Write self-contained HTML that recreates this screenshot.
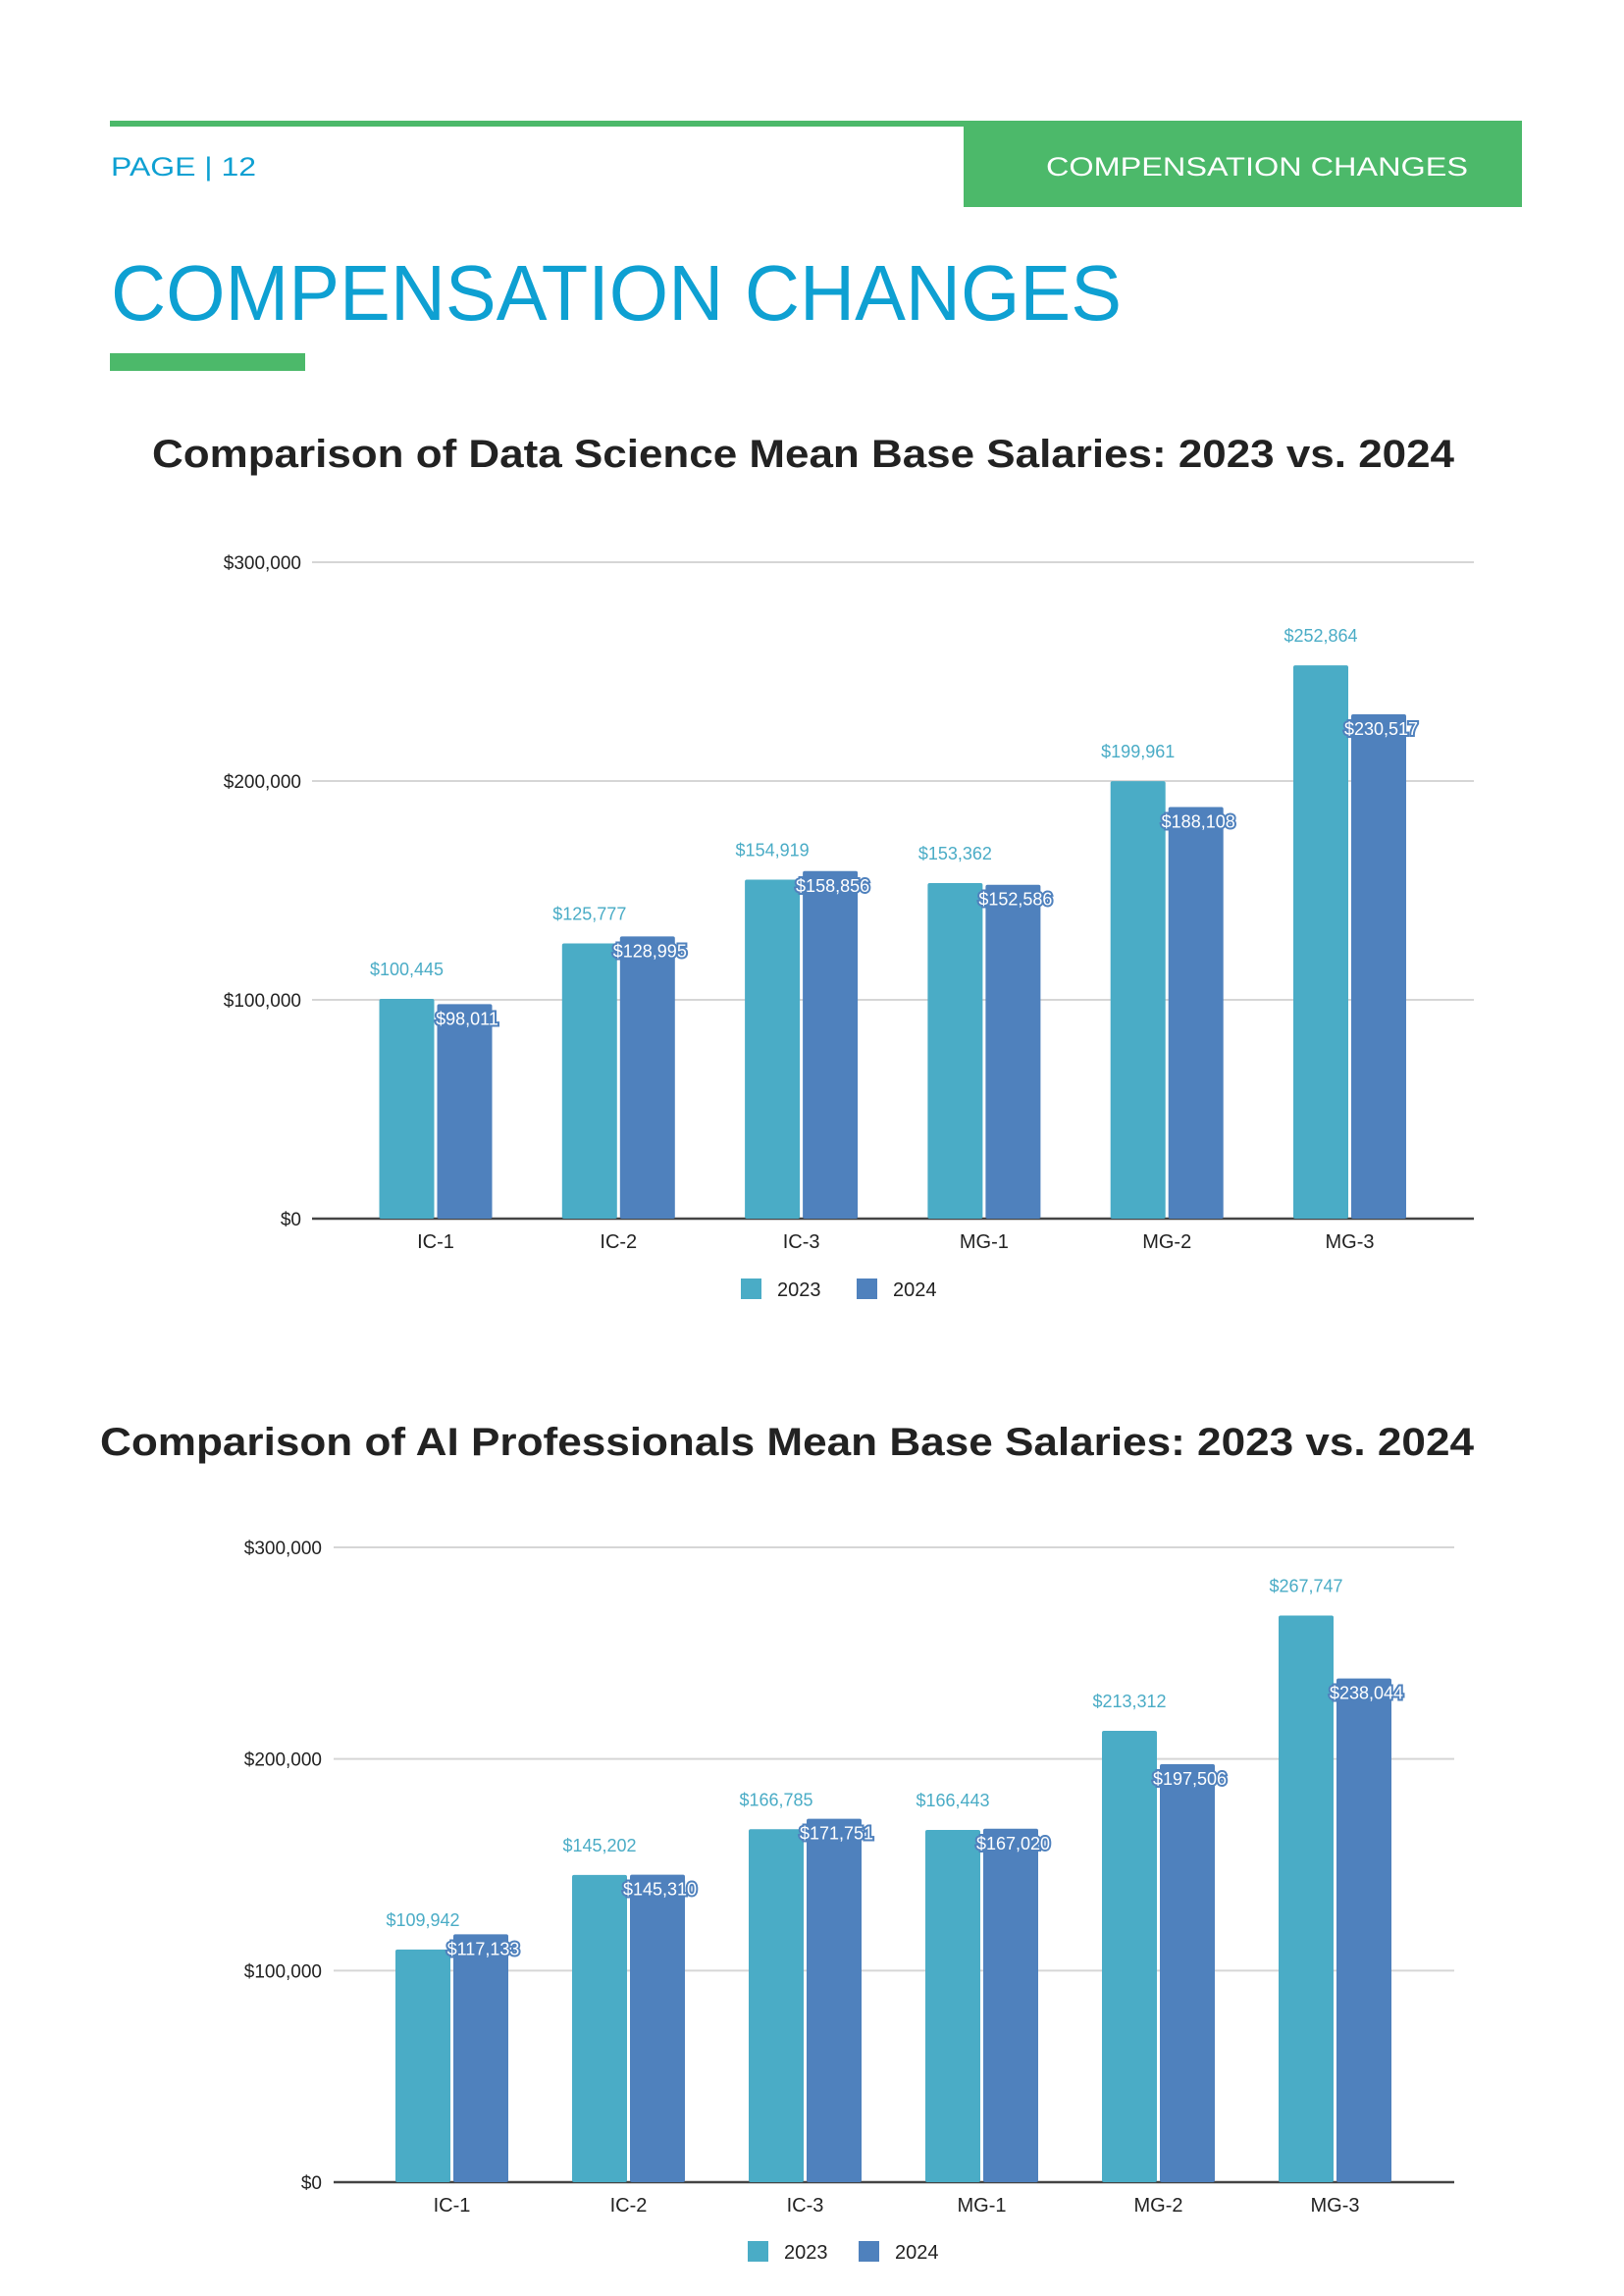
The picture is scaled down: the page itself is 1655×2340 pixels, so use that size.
<!DOCTYPE html>
<html><head><meta charset="utf-8"><style>
html,body{margin:0;padding:0;background:#fff}
svg{display:block}
text{font-family:"Liberation Sans",sans-serif}
</style></head><body>
<svg id="page" width="1655" height="2340" viewBox="0 0 1655 2340">
<rect x="112" y="123" width="870" height="6" fill="#4cb96a"/>
<rect x="982" y="123" width="569" height="88" fill="#4cb96a"/>
<text x="113" y="179" font-size="27" fill="#0ea0d2" textLength="148" lengthAdjust="spacingAndGlyphs">PAGE | 12</text>
<text x="1066" y="179" font-size="27" fill="#fff" textLength="430" lengthAdjust="spacingAndGlyphs">COMPENSATION CHANGES</text>
<text x="113" y="326" font-size="80" fill="#0ea0d2" textLength="1030" lengthAdjust="spacingAndGlyphs">COMPENSATION CHANGES</text>
<rect x="112" y="360" width="199" height="18" fill="#4cb96a"/>
<text x="155" y="476" font-size="40" font-weight="bold" fill="#222" textLength="1327" lengthAdjust="spacingAndGlyphs">Comparison of Data Science Mean Base Salaries: 2023 vs. 2024</text>
<text x="102" y="1483" font-size="40" font-weight="bold" fill="#222" textLength="1400" lengthAdjust="spacingAndGlyphs">Comparison of AI Professionals Mean Base Salaries: 2023 vs. 2024</text>
<g id="chart1"></g>
<g id="chart2"></g>
</svg>
<script>
const categories = ["IC-1","IC-2","IC-3","MG-1","MG-2","MG-3"];
const ds2023 = [100445,125777,154919,153362,199961,252864];
const ds2024 = [98011,128995,158856,152586,188108,230517];
const ai2023 = [109942,145202,166785,166443,213312,267747];
const ai2024 = [117133,145310,171751,167020,197506,238044];
const yTicks = [0,100000,200000,300000];
const seriesNames = ["2023","2024"];
const NS = "http://www.w3.org/2000/svg";
const C1 = "#4aacc6", C2 = "#4f81bd";
function fmt(v){return "$"+v.toLocaleString("en-US");}
function mk(parent, tag, attrs, txt){
  const el = document.createElementNS(NS, tag);
  for (const k in attrs) el.setAttribute(k, attrs[k]);
  if (txt!==undefined) el.textContent = txt;
  parent.appendChild(el);
  return el;
}
function draw(g, cfg, s1, s2){
  const y = v => cfg.y0 - (v/300000)*(cfg.y0-cfg.y300);
  const xc = i => cfg.c0 + i*cfg.step;
  yTicks.forEach(t=>{
    const l = mk(g,"line",{x1:cfg.xL,x2:cfg.xR,y1:y(t),y2:y(t),stroke:t===0?"#444":"#d6d6d6","stroke-width":t===0?2.5:2});
    
    
    const tx = mk(g,"text",{x:cfg.tickX,y:y(t)+7,"text-anchor":"end","font-size":19,fill:"#222"},t===0?"$0":fmt(t));
    
    
  });
  categories.forEach((c,i)=>{
    const cx = xc(i), bw = 56;
    const b1 = mk(g,"rect",{x:cx-bw-1.5,y:y(s1[i]),width:bw,height:cfg.y0-y(s1[i]),fill:C1,rx:2});
    
    
    const b2 = mk(g,"rect",{x:cx+1.5,y:y(s2[i]),width:bw,height:cfg.y0-y(s2[i]),fill:C2,rx:2});
    
    
    const l1 = mk(g,"text",{x:cx-bw/2-1.5,y:y(s1[i])-24,"text-anchor":"middle","font-size":18,fill:C1},fmt(s1[i]));
    
    
    const l2 = mk(g,"text",{x:cx+bw/2+4,y:y(s2[i])+21,"text-anchor":"middle","font-size":18,fill:"#fff",stroke:C2,"stroke-width":4,"paint-order":"stroke"},fmt(s2[i]));
    
    
    const xl = mk(g,"text",{x:cx,y:cfg.y0+30,"text-anchor":"middle","font-size":20,fill:"#222"},c);
    
    
  });
  [C1,C2].forEach((col,k)=>{
    const sq = mk(g,"rect",{x:cfg.legX[k],y:cfg.legY-11,width:21,height:21,fill:col});
    
    
    const lt = mk(g,"text",{x:cfg.legX[k]+37,y:cfg.legY+7,"font-size":20,fill:"#222"},seriesNames[k]);
    
    
  });
}
draw(document.getElementById("chart1"),{y0:1242,y300:573,xL:318,xR:1502,tickX:307,c0:444,step:186.3,legY:1314,legX:[755,873]},ds2023,ds2024);
draw(document.getElementById("chart2"),{y0:2224,y300:1577,xL:340,xR:1482,tickX:328,c0:460.5,step:180,legY:2295,legX:[762,875]},ai2023,ai2024);
</script>
</body></html>
